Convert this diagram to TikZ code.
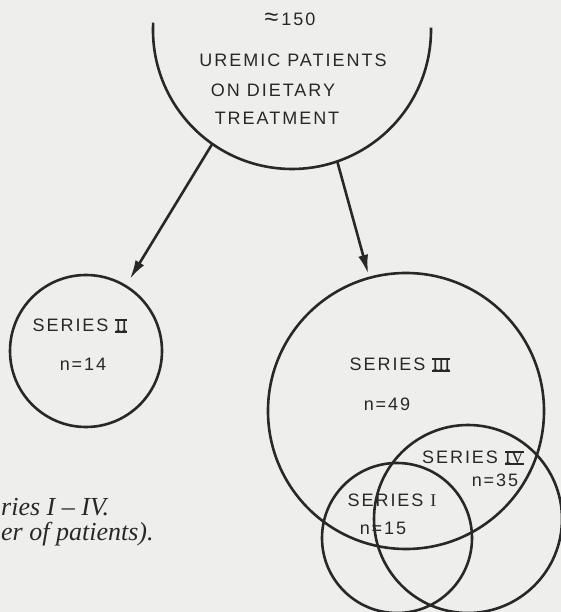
\documentclass[tikz,border=0pt]{standalone}
\usepackage{fontspec}
\setmainfont{Liberation Serif}
\newfontfamily\lblfont{Liberation Sans}[LetterSpace=11]
\usetikzlibrary{arrows.meta, positioning, calc}

\definecolor{paper}{RGB}{238,238,236}
\definecolor{ink}{RGB}{40,40,40}

% roman numeral with bars above and below
\newcommand\romnum[1]{%
  \setbox0=\hbox{\rmfamily #1}%
  \rlap{\rule[-0.7pt]{\wd0}{1.4pt}}%
  \rlap{\rule[\dimexpr\ht0-0.7pt\relax]{\wd0}{1.4pt}}%
  \box0}

\begin{document}
\begin{tikzpicture}[x=1pt, y=1pt,
    set/.style={circle, draw=ink, line width=2.6pt, inner sep=0pt},
    lbl/.style={font=\lblfont\fontsize{18}{21}\selectfont, text=ink, inner sep=0pt},
    arr/.style={draw=ink, line width=2.6pt, -{Latex[length=19pt, width=10pt]}}]
    \fill[paper] (0,0) rectangle (561,612);
    \useasboundingbox (0,0) rectangle (561,612);

    % all patients
    \coordinate (pop) at (292,582);
    \draw[ink, line width=2.6pt] (pop) ++(177:139) arc[start angle=177, end angle=361, radius=139];
    \coordinate (popL) at ($(pop)+(235:139)$);
    \coordinate (popR) at ($(pop)+(289:139)$);
    \node[lbl] (approx) at (290,593) {{\fontsize{25}{25}\selectfont ≈}\,150};
    \node[lbl] (uremic) at (293,552) {UREMIC PATIENTS};
    \node[lbl] (diet) at (273,522) {ON DIETARY};
    \node[lbl] (treat) at (277,494) {TREATMENT};

    % series
    \node[set, minimum size=152pt] (s2) at (86,261) {};
    \node[set, minimum size=276pt] (s3) at (406,201) {};
    \node[set, minimum size=188pt] (s4) at (468,93) {};
    \node[set, minimum size=150pt] (s1) at (397,74) {};

    \node[lbl] (s2name) at (80,286) {SERIES \romnum{II}};
    \node[lbl] (s2n) at (83,248) {n=14};
    \node[lbl] (s3name) at (400,247) {SERIES \romnum{III}};
    \node[lbl] (s3n) at (387,208) {n=49};
    \node[lbl] (s4name) at (473,154) {SERIES \romnum{IV}};
    \node[lbl] (s4n) at (495,132) {n=35};
    \node[lbl] (s1name) at (392,112) {SERIES {\rmfamily I}};
    \node[lbl] (s1n) at (383,84) {n=15};

    \draw[arr, shorten >=7pt] (popL) -- (s2);
    \draw[arr, shorten >=3pt] (popR) -- (s3);

    % caption remains
    \node[anchor=base west, inner sep=0pt, text=ink, font=\itshape\fontsize{26}{29}\selectfont] (cap1) at (1,96) {ries I -- IV.};
    \node[anchor=base west, inner sep=0pt, text=ink, font=\itshape\fontsize{26}{29}\selectfont] (cap2) at (1,71) {er of patients).};
\end{tikzpicture}
\end{document}
